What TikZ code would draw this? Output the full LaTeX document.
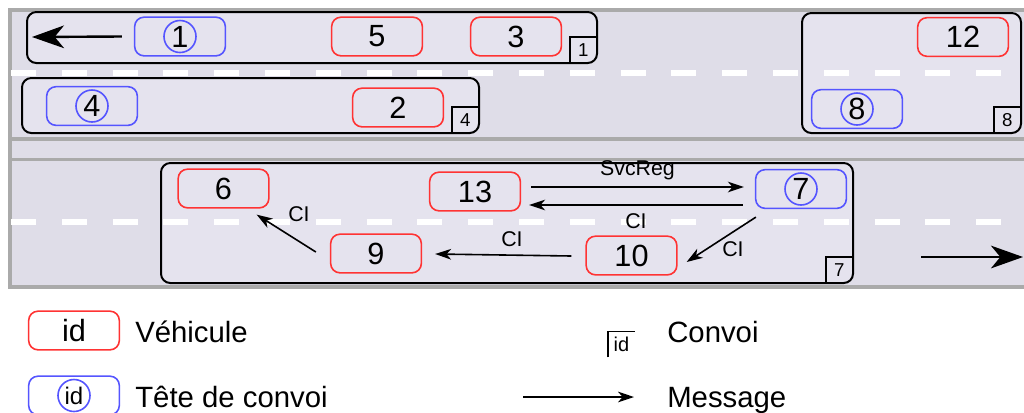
\documentclass[tikz,border=0pt]{standalone}
\usepackage{fontspec}
\setmainfont{Liberation Sans}
\usetikzlibrary{arrows.meta,positioning,calc}
\definecolor{routefond}{RGB}{223,221,232}
\definecolor{convoifond}{RGB}{229,227,238}
\definecolor{routebord}{RGB}{170,170,170}
\definecolor{rougev}{RGB}{255,51,51}
\definecolor{bleuv}{RGB}{85,85,255}

\begin{document}
\begin{tikzpicture}[x=0.75pt,y=-0.75pt,
  vehicule/.style={draw=rougev,line width=1.2pt,rounded corners=7pt,minimum width=68pt,minimum height=29pt,inner sep=0pt,font=\fontsize{23}{23}\selectfont},
  tete/.style={vehicule,draw=bleuv,label={[cercle]center:#1}},
  cercle/.style={draw=bleuv,circle,line width=1.2pt,minimum size=24pt,inner sep=0.5pt,font=\fontsize{23}{23}\selectfont},
  convoi/.style={draw=black,line width=1.5pt,rounded corners=7pt,fill=convoifond},
  etiq/.style={anchor=south east,minimum width=20pt,minimum height=19pt,inner sep=0pt,font=\fontsize{14}{14}\selectfont},
  etiqbord/.style={line width=1.1pt},
  route/.style={routebord,line width=2.5pt},
  tirets/.style={white,line width=4.5pt,dash pattern=on 18.75pt off 19.35pt},
  msg/.style={-{Stealth[length=12pt,width=8pt,inset=3.5pt]},line width=1.2pt},
  sens/.style={-{Stealth[length=24pt,width=17pt,inset=7pt]},line width=1.8pt},
  lbl/.style={font=\fontsize{16}{16}\selectfont,inner sep=0pt},
  leg/.style={anchor=base west,inner sep=0pt,font=\fontsize{22}{22}\selectfont}]
  \useasboundingbox (0,0) rectangle (1024,412);
  % route : deux chaussées et terre-plein
  \fill[routefond] (10,10) rectangle (1030,287);
  \draw[route] (1030,10) -- (10,10) -- (10,287) -- (1030,287);
  \draw[route] (10,139) -- (1030,139) (10,159.5) -- (1030,159.5);
  \draw[convoi] (27,12) rectangle (597,63);
  \draw[convoi] (22,78) rectangle (479,133);
  \draw[convoi] (802,13) rectangle (1021,133);
  \draw[convoi] (161,163) rectangle (853,283);
  \draw[tirets] (11,72.5) -- (1030,72.5);
  \draw[tirets] (11,221.5) -- (1030,221.5);
  \node[etiq] (t1) at (597,63) {1};
  \node[etiq] (t4) at (479,133) {4};
  \node[etiq] (t8) at (1021,133) {8};
  \node[etiq] (t7) at (853,283) {7};
  \foreach \t in {t1,t4,t8,t7} \draw[etiqbord] (\t.south west) |- (\t.north east);

  \node[tete=1] (v1) at (180,36.5) {};
  \node[vehicule] (v5) at (377,36.5) {5};
  \node[vehicule] (v3) at (516,36.5) {3};
  \node[tete=4] (v4) at (92,106) {};
  \node[vehicule] (v2) at (398,107.5) {2};
  \node[vehicule] (v12) at (963,37) {12};
  \node[tete=8] (v8) at (857,109) {};
  \node[vehicule] (v6) at (223.5,188.5) {6};
  \node[vehicule] (v13) at (475,191.5) {13};
  \node[tete=7] (v7) at (801,189) {};
  \node[vehicule] (v9) at (376,253.5) {9};
  \node[vehicule] (v10) at (631.5,255.5) {10};

  \coordinate (gauche) at (32,37);
  \draw[sens] ($(v1.west)+(-12,0)$) -- (gauche);
  \coordinate (droiteA) at (921,257); \coordinate (droiteB) at (1023,257);
  \draw[sens] (droiteA) -- (droiteB);

  \draw[msg] ($(v13.east)+(10,-4.5)$) -- node[lbl,above=5pt] (svc) {SvcReg} ($(v7.west)+(-11,-2)$);
  \draw[msg] ($(v7.west)+(-12,16)$) -- node[lbl,below=6pt] (ci1) {CI} ($(v13.east)+(8,13.5)$);
  \draw[msg] ($(v7.south west)+(1,8)$) -- ($(v10.east)+(9,6.5)$);
  \node[lbl] (ci2) at (733,249) {CI};
  \draw[msg] ($(v10.west)+(-14,0.5)$) -- ($(v9.east)+(13,0.5)$);
  \node[lbl] (ci3) at (512,239) {CI};
  \draw[msg] ($(v9.west)+(-14,-1.5)$) -- ($(v6.south east)+(-13,6)$);
  \node[lbl] (ci4) at (299,214) {CI};

  % légende
  \node[vehicule] (lv) at (74,330.5) {id};
  \node[leg] (lvt) at (135,342) {Véhicule};
  \node[tete={\fontsize{18}{18}\selectfont id}] (lh) at (74,395.5) {};
  \node[leg] (lht) at (135,407) {Tête de convoi};
  \node[etiq,anchor=center,font=\fontsize{15}{15}\selectfont] (lc) at (621.5,344.5) {id};
  \draw[etiqbord] (lc.south west) |- (lc.north east);
  \node[leg] (lct) at (667,342) {Convoi};
  \coordinate (ma) at (523,397); \coordinate (mb) at (634,397);
  \draw[msg] (ma) -- (mb);
  \node[leg] (lmt) at (667,407) {Message};
\end{tikzpicture}
\end{document}
